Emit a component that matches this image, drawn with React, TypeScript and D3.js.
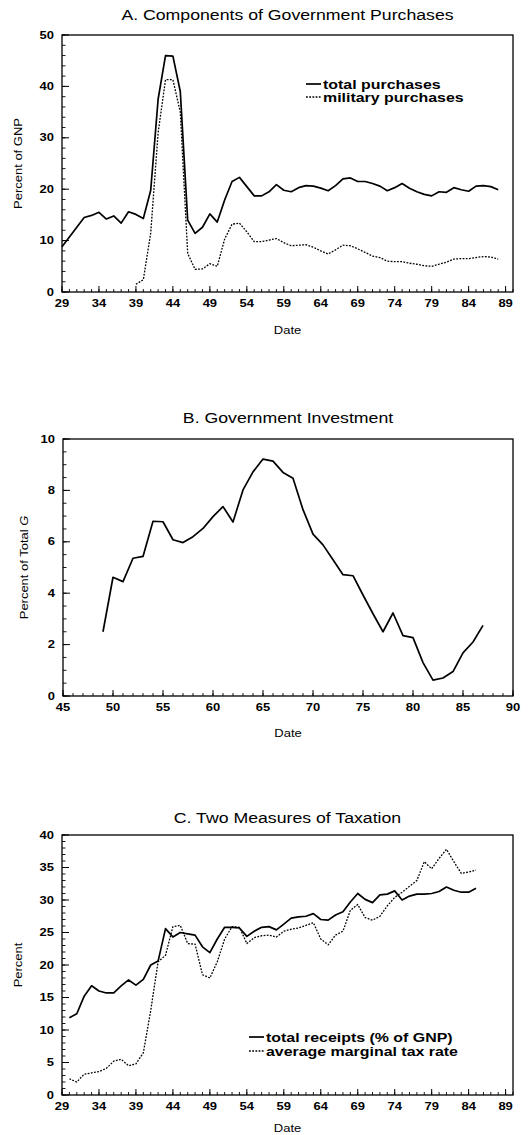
import React from "react";
import * as d3 from "d3";

// ---------- DATA ----------
// Panel A: percent of GNP, by year (19xx)
const totalPurchasesStart = 29;
const totalPurchases = [
  8.8, 10.7, 12.6, 14.5, 14.9, 15.5, 14.2, 14.8, 13.4, 15.6, 15.1, 14.3, 19.8, 37.5, 46.0, 45.9, 39.0, 14.0, 11.4, 12.6,
  15.2, 13.6, 17.9, 21.5, 22.3, 20.5, 18.7, 18.7, 19.5, 20.9, 19.8, 19.5, 20.3, 20.7, 20.6, 20.2, 19.7, 20.7, 22.0, 22.2,
  21.5, 21.5, 21.1, 20.6, 19.7, 20.3, 21.1, 20.2, 19.5, 19.0, 18.7, 19.5, 19.4, 20.3, 19.9, 19.6, 20.6, 20.7, 20.5, 19.9,
];
const militaryPurchasesStart = 39;
const militaryPurchases = [
  1.5, 2.4, 11.5, 31.0, 41.3, 41.3, 35.0, 7.5, 4.4, 4.5, 5.5, 5.0, 10.3, 13.2, 13.4, 11.7, 9.8, 9.8, 10.1, 10.4,
  9.6, 9.0, 9.1, 9.2, 8.7, 8.0, 7.4, 8.2, 9.1, 9.0, 8.4, 7.7, 7.0, 6.7, 6.0, 5.9, 5.9, 5.6, 5.4, 5.1,
  5.0, 5.4, 5.8, 6.4, 6.5, 6.5, 6.7, 6.9, 6.8, 6.4,
];
// Panel B: government investment, percent of total G
const investmentStart = 49;
const investment = [
  2.5, 4.62, 4.45, 5.36, 5.43, 6.8, 6.78, 6.08, 5.97, 6.2, 6.52, 6.98, 7.37, 6.77, 8.02, 8.72, 9.22, 9.14, 8.7, 8.47,
  7.25, 6.3, 5.88, 5.3, 4.72, 4.68, 3.93, 3.2, 2.5, 3.23, 2.35, 2.27, 1.3, 0.62, 0.7, 0.95, 1.68, 2.1, 2.75,
];
// Panel C: taxation, percent
const receiptsStart = 30;
const totalReceipts = [
  11.9, 12.5, 15.2, 16.8, 16.0, 15.7, 15.7, 16.8, 17.7, 16.9, 17.8, 20.0, 20.6, 25.6, 24.3, 25.0, 24.8, 24.6, 22.8, 21.9,
  24.0, 25.8, 25.8, 25.7, 24.4, 25.2, 25.8, 25.9, 25.4, 26.3, 27.2, 27.4, 27.5, 27.9, 27.0, 26.9, 27.7, 28.2, 29.7, 31.0,
  30.1, 29.6, 30.8, 30.9, 31.4, 30.0, 30.6, 30.9, 30.9, 31.0, 31.3, 32.0, 31.5, 31.2, 31.2, 31.8,
];
const amtrStart = 30;
const marginalTaxRate = [
  2.5, 2.0, 3.2, 3.4, 3.6, 4.1, 5.2, 5.5, 4.5, 4.8, 6.5, 13.0, 20.5, 21.5, 25.9, 26.1, 23.3, 23.2, 18.5, 18.0,
  20.5, 24.0, 25.9, 25.8, 23.3, 24.2, 24.5, 24.6, 24.3, 25.2, 25.5, 25.7, 26.1, 26.5, 24.0, 23.1, 24.6, 25.2, 28.4, 29.3,
  27.3, 26.9, 27.5, 29.1, 30.4, 31.2, 32.1, 33.0, 35.9, 34.8, 36.4, 37.8, 35.9, 34.1, 34.3, 34.6,
];

// tick labels
const xTicksA = [29, 34, 39, 44, 49, 54, 59, 64, 69, 74, 79, 84, 89];
const yTicksA = [0, 10, 20, 30, 40, 50];
const xTicksB = [45, 50, 55, 60, 65, 70, 75, 80, 85, 90];
const yTicksB = [0, 2, 4, 6, 8, 10];
const xTicksC = [29, 34, 39, 44, 49, 54, 59, 64, 69, 74, 79, 84, 89];
const yTicksC = [0, 5, 10, 15, 20, 25, 30, 35, 40];

// ---------- RENDER ----------
const FONT = "'Liberation Sans', Arial, Helvetica, sans-serif";
const SX = 1.18;
const DOT = "1.8 1.4";

function Txt({ x, y, size, weight = "normal", anchor = "middle", rotate = 0, children }: any) {
  return (
    <text
      transform={`translate(${x},${y}) rotate(${rotate}) scale(${SX},1)`}
      fontSize={size}
      fontWeight={weight}
      textAnchor={anchor}
      dominantBaseline="central"
      fontFamily={FONT}
      fill="#000"
    >
      {children}
    </text>
  );
}

type Series = { start: number; values: number[]; dotted?: boolean };

function Panel(props: any) {
  const { box, xDomain, yDomain, xTicks, yTicks, xMinor, yMinor, series, title, titleY, yLabel, yLabelX, dateY, legend } = props;
  const x = d3.scaleLinear().domain(xDomain).range([box.left, box.right]);
  const y = d3.scaleLinear().domain(yDomain).range([box.bottom, box.top]);
  const line = d3
    .line<[number, number]>()
    .x((d) => x(d[0]))
    .y((d) => y(d[1]));
  const xMinorTicks = d3.range(xDomain[0], xDomain[1] + 0.001, xMinor);
  const yMinorTicks = d3.range(yDomain[0], yDomain[1] + 0.001, yMinor);
  const cx = (box.left + box.right) / 2;
  return (
    <g>
      <Txt x={cx} y={titleY} size={15}>{title}</Txt>
      <rect x={box.left} y={box.top} width={box.right - box.left} height={box.bottom - box.top} fill="none" stroke="#000" strokeWidth={1.3} />
      {xMinorTicks.map((t: number) => (
        <line key={"xm" + t} x1={x(t)} x2={x(t)} y1={box.bottom} y2={box.bottom - 3} stroke="#000" strokeWidth={0.9} />
      ))}
      {xTicks.map((t: number) => (
        <line key={"xM" + t} x1={x(t)} x2={x(t)} y1={box.bottom} y2={box.bottom - 6} stroke="#000" strokeWidth={1} />
      ))}
      {yMinorTicks.map((t: number) => (
        <line key={"ym" + t} x1={box.left} x2={box.left + 3.5} y1={y(t)} y2={y(t)} stroke="#000" strokeWidth={0.9} />
      ))}
      {yTicks.map((t: number) => (
        <line key={"yM" + t} x1={box.left} x2={box.left + 7} y1={y(t)} y2={y(t)} stroke="#000" strokeWidth={1} />
      ))}
      {xTicks.map((t: number) => (
        <Txt key={"xl" + t} x={x(t)} y={box.bottom + 11.5} size={11} weight="bold">{t}</Txt>
      ))}
      {yTicks.map((t: number) => (
        <Txt key={"yl" + t} x={box.left - 8} y={y(t)} size={11} weight="bold" anchor="end">{t}</Txt>
      ))}
      <Txt x={yLabelX} y={(box.top + box.bottom) / 2} size={11} rotate={-90}>{yLabel}</Txt>
      <Txt x={cx} y={dateY} size={11}>Date</Txt>
      {series.map((s: Series, i: number) => {
        const pts: [number, number][] = s.values.map((v, j) => [s.start + j, v]);
        return (
          <path
            key={i}
            d={line(pts) || ""}
            fill="none"
            stroke="#000"
            strokeWidth={s.dotted ? 1.3 : 1.7}
            strokeDasharray={s.dotted ? DOT : undefined}
            strokeLinejoin="round"
          />
        );
      })}
      {legend &&
        legend.items.map((it: any, i: number) => {
          const ly = legend.y + i * legend.dy;
          return (
            <g key={"lg" + i}>
              <line
                x1={legend.x}
                x2={legend.x + 15}
                y1={ly}
                y2={ly}
                stroke="#000"
                strokeWidth={it.dotted ? 1.3 : 1.7}
                strokeDasharray={it.dotted ? DOT : undefined}
              />
              <Txt x={legend.x + 17} y={ly} size={13.5} weight="bold" anchor="start">{it.label}</Txt>
            </g>
          );
        })}
    </g>
  );
}

export default function App() {
  return (
    <svg width={532} height={1135} style={{ position: "absolute", left: 0, top: 0, background: "#fff" }}>
      <rect x={0} y={0} width={532} height={1135} fill="#fff" />
      <Panel
        box={{ left: 62, right: 513, top: 35, bottom: 292 }}
        xDomain={[29, 90]}
        yDomain={[0, 50]}
        xTicks={xTicksA}
        yTicks={yTicksA}
        xMinor={1}
        yMinor={2}
        title="A.  Components of Government Purchases"
        titleY={15}
        yLabel="Percent of GNP"
        yLabelX={18}
        dateY={330}
        series={[
          { start: totalPurchasesStart, values: totalPurchases },
          { start: militaryPurchasesStart, values: militaryPurchases, dotted: true },
        ]}
        legend={{
          x: 306,
          y: 84,
          dy: 13,
          items: [
            { label: "total purchases" },
            { label: "military purchases", dotted: true },
          ],
        }}
      />
      <Panel
        box={{ left: 63, right: 513, top: 439, bottom: 696 }}
        xDomain={[45, 90]}
        yDomain={[0, 10]}
        xTicks={xTicksB}
        yTicks={yTicksB}
        xMinor={1}
        yMinor={0.5}
        title="B.  Government Investment"
        titleY={418}
        yLabel={
          <>
            Percent of Total <tspan fontStyle="italic">G</tspan>
          </>
        }
        yLabelX={24}
        dateY={733}
        series={[{ start: investmentStart, values: investment }]}
      />
      <Panel
        box={{ left: 62, right: 513, top: 835, bottom: 1095 }}
        xDomain={[29, 90]}
        yDomain={[0, 40]}
        xTicks={xTicksC}
        yTicks={yTicksC}
        xMinor={1}
        yMinor={1}
        title="C.  Two Measures of Taxation"
        titleY={818}
        yLabel="Percent"
        yLabelX={18}
        dateY={1128}
        series={[
          { start: receiptsStart, values: totalReceipts },
          { start: amtrStart, values: marginalTaxRate, dotted: true },
        ]}
        legend={{
          x: 249,
          y: 1037,
          dy: 14,
          items: [
            { label: "total receipts (% of GNP)" },
            { label: "average marginal tax rate", dotted: true },
          ],
        }}
      />
    </svg>
  );
}
